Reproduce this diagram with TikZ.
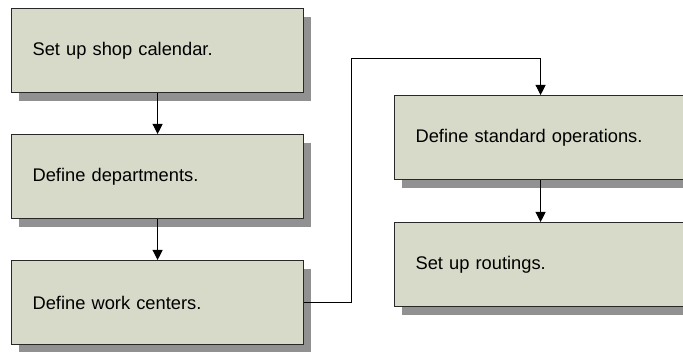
\documentclass[tikz,border=0pt]{standalone}
\usepackage{fontspec}
\setmainfont{Liberation Sans}
\usetikzlibrary{arrows.meta,shadows}
\definecolor{boxfill}{RGB}{216,218,201}
\definecolor{boxshade}{RGB}{145,145,145}
\definecolor{boxline}{RGB}{40,40,40}
\begin{document}
\begin{tikzpicture}[x=1pt,y=-1pt]
            \tikzset{stepbox/.style={draw=boxline, line width=1.2pt, fill=boxfill,
                    anchor=north west, minimum height=84pt, text width=250pt,
                    inner xsep=21pt, align=left,
                    font=\fontsize{18.3}{22}\selectfont,
                    drop shadow={shadow xshift=7pt, shadow yshift=-8pt, fill=boxshade, opacity=1}},
                flow/.style={line width=1pt, draw=black, -{Triangle[width=10pt,length=10pt]}}}
            \useasboundingbox (0,0) rectangle (683,352);
            % left column
            \node[stepbox] (cal) at (11,8) {Set up shop calendar.};
            \node[stepbox] (dept) at (11,134) {Define departments.};
            \node[stepbox] (wc) at (11,260) {Define work centers.};
            % right column
            \node[stepbox] (ops) at (394,95) {Define standard operations.};
            \node[stepbox] (rout) at (394,222) {Set up routings.};
            % connectors
            \coordinate (bend) at (351,59);
            \draw[flow] (cal.south) -- (dept.north);
            \draw[flow] (dept.south) -- (wc.north);
            \draw[flow] (wc.east) -| (bend) -| (ops.north);
            \draw[flow] (ops.south) -- (rout.north);
        \end{tikzpicture}
\end{document}
